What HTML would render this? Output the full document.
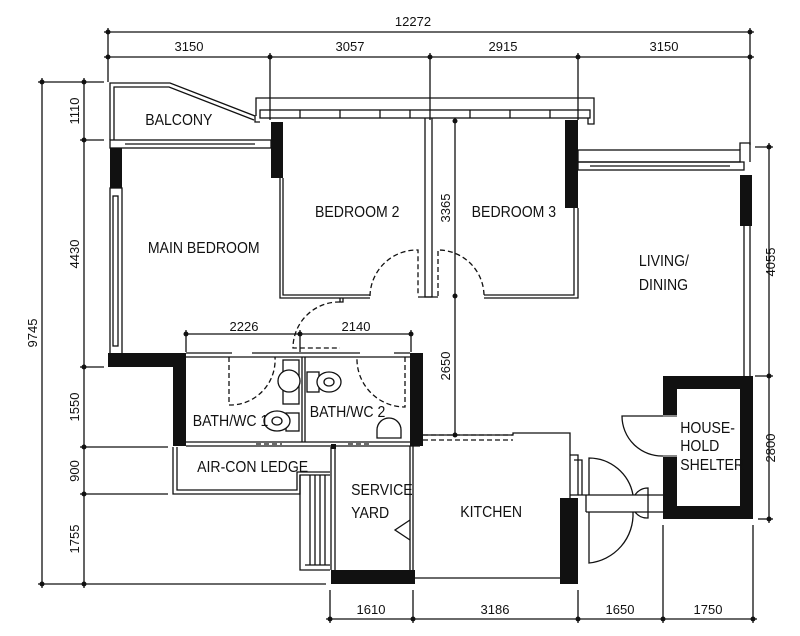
<!DOCTYPE html>
<html><head><meta charset="utf-8"><style>
html,body{margin:0;padding:0;background:#fff;}
svg{display:block}
text{font-family:"Liberation Sans",sans-serif;fill:#111;}
.d{font-size:13px;}
</style></head><body>
<svg width="800" height="636" viewBox="0 0 800 636" xmlns="http://www.w3.org/2000/svg">
<g stroke="#111" stroke-width="1.3" fill="none">
<line x1="104" y1="32" x2="754" y2="32"/>
<line x1="104" y1="57" x2="754" y2="57"/>
<line x1="108" y1="28" x2="108" y2="82"/>
<line x1="750" y1="28" x2="750" y2="145"/>
<line x1="270" y1="53" x2="270" y2="120"/>
<line x1="430" y1="53" x2="430" y2="120"/>
<line x1="578" y1="53" x2="578" y2="120"/>
<line x1="42" y1="78" x2="42" y2="588"/>
<line x1="84" y1="78" x2="84" y2="588"/>
<line x1="38" y1="82" x2="104" y2="82"/>
<line x1="80" y1="140" x2="104" y2="140"/>
<line x1="80" y1="367" x2="104" y2="367"/>
<line x1="80" y1="447" x2="168" y2="447"/>
<line x1="80" y1="494" x2="168" y2="494"/>
<line x1="38" y1="584" x2="326" y2="584"/>
<line x1="769" y1="143" x2="769" y2="523"/>
<line x1="755" y1="147" x2="773" y2="147"/>
<line x1="755" y1="376" x2="773" y2="376"/>
<line x1="758" y1="519" x2="773" y2="519"/>
<line x1="326" y1="619" x2="757" y2="619"/>
<line x1="330" y1="590" x2="330" y2="623"/>
<line x1="413" y1="590" x2="413" y2="623"/>
<line x1="578" y1="590" x2="578" y2="623"/>
<line x1="663" y1="525" x2="663" y2="623"/>
<line x1="753" y1="525" x2="753" y2="623"/>
<line x1="455" y1="120" x2="455" y2="435"/>
<line x1="186" y1="334" x2="412" y2="334"/>
<line x1="186" y1="330" x2="186" y2="352"/>
<line x1="300" y1="330" x2="300" y2="352"/>
<line x1="411" y1="330" x2="411" y2="352"/>
</g>
<g fill="#111">
<circle cx="108" cy="32" r="2.5"/><circle cx="750" cy="32" r="2.5"/>
<circle cx="108" cy="57" r="2.5"/><circle cx="270" cy="57" r="2.5"/><circle cx="430" cy="57" r="2.5"/><circle cx="578" cy="57" r="2.5"/><circle cx="750" cy="57" r="2.5"/>
<circle cx="42" cy="82" r="2.5"/><circle cx="42" cy="584" r="2.5"/>
<circle cx="84" cy="82" r="2.5"/><circle cx="84" cy="140" r="2.5"/><circle cx="84" cy="367" r="2.5"/><circle cx="84" cy="447" r="2.5"/><circle cx="84" cy="494" r="2.5"/><circle cx="84" cy="584" r="2.5"/>
<circle cx="769" cy="147" r="2.5"/><circle cx="769" cy="376" r="2.5"/><circle cx="769" cy="519" r="2.5"/>
<circle cx="330" cy="619" r="2.5"/><circle cx="413" cy="619" r="2.5"/><circle cx="578" cy="619" r="2.5"/><circle cx="663" cy="619" r="2.5"/><circle cx="753" cy="619" r="2.5"/>
<circle cx="455" cy="121" r="2.5"/><circle cx="455" cy="296" r="2.5"/><circle cx="455" cy="435" r="2.5"/>
<circle cx="186" cy="334" r="2.5"/><circle cx="300" cy="334" r="2.5"/><circle cx="411" cy="334" r="2.5"/>
</g>
<g stroke="#111" stroke-width="1.3" fill="none">
<path d="M110 140 V83 H170 L255 116 V122 H260"/>
<path d="M114 140 V87 H169 L254 120"/>
<rect x="110" y="140" width="161" height="8"/>
<line x1="125" y1="144" x2="255" y2="144"/>
<path d="M256 116 V98 H594 V124 H588 V118"/>
<rect x="260" y="110" width="330" height="8"/>
<line x1="300" y1="110" x2="300" y2="118"/><line x1="340" y1="110" x2="340" y2="118"/><line x1="380" y1="110" x2="380" y2="118"/><line x1="410" y1="110" x2="410" y2="118"/><line x1="470" y1="110" x2="470" y2="118"/><line x1="510" y1="110" x2="510" y2="118"/><line x1="550" y1="110" x2="550" y2="118"/>
<rect x="110" y="188" width="12" height="166"/>
<rect x="113" y="196" width="5" height="150"/>
<path d="M280 178 V298 H370"/><path d="M283 178 V295 H370"/>
<path d="M340 298 v4 h3 v-4"/>
<path d="M425 118 V297 H432 V118"/>
<line x1="418" y1="297" x2="438" y2="297"/>
<path d="M578 208 V298 H484"/><path d="M574 208 V295 H484"/>
<rect x="578" y="150" width="162" height="12"/>
<rect x="578" y="162" width="166" height="8"/>
<line x1="590" y1="166" x2="730" y2="166"/>
<path d="M740 150 V143 H750 V162"/>
<path d="M744 226 V376 M750 226 V376"/>
<path d="M186 353 H232 M252 353 H360 M394 353 H410"/>
<path d="M186 357 H410"/>
<line x1="186" y1="446" x2="420" y2="446"/>
<line x1="186" y1="442" x2="410" y2="442"/>
<line x1="302" y1="357" x2="302" y2="442"/><line x1="305" y1="357" x2="305" y2="442"/>
<path d="M173 447 V494 H300 V475 H330"/>
<path d="M177 447 V490 H297 V472 H330"/>
<path d="M300 475 V570 H330"/>
<line x1="310" y1="475" x2="310" y2="565"/><line x1="315" y1="475" x2="315" y2="565"/><line x1="320" y1="475" x2="320" y2="565"/><line x1="325" y1="475" x2="325" y2="565"/>
<line x1="305" y1="565" x2="330" y2="565"/>
<path d="M331 447 V570 M335 447 V570"/>
<path d="M410 446 V570 M413 446 V570"/>
<path d="M410 520 L395 530 L410 540"/>
<path d="M423 435 H513 V433 H570 V498"/>
<path d="M413 578 H560"/>
<path d="M570 455 H578 V495 H570"/>
<path d="M574 460 H582 V495"/>
<path d="M578 495 H663"/><path d="M586 512 H663"/>
<line x1="586" y1="495" x2="586" y2="512"/>
<path d="M589 495 V458 A45 45 0 0 1 633 495" />
<path d="M589 512 V563 A49 49 0 0 0 633 512"/>
<path d="M635 495 A15 15 0 0 1 648 488 V518 A15 15 0 0 1 635 512"/>
<path d="M663 416 H622 A40 40 0 0 0 663 456"/>
</g>
<g stroke="#111" stroke-width="1.3" fill="none" stroke-dasharray="5,3">
<path d="M370 296 A47 47 0 0 1 418 250 V296"/>
<path d="M438 296 V250 A46 46 0 0 1 484 296"/>
<path d="M340 302 A46 46 0 0 0 293 348 H340"/>
<path d="M229 357 V405 A45 45 0 0 0 275 357"/>
<path d="M405 357 V407 A48 48 0 0 1 357 357"/>
<path d="M423 435 H513 M423 440 H513"/>
<path d="M256 444 H282 M348 444 H372"/>
</g>
<g fill="#111">
<rect x="110" y="148" width="12" height="40"/>
<rect x="271" y="122" width="12" height="56"/>
<rect x="565" y="120" width="13" height="88"/>
<rect x="740" y="175" width="12" height="51"/>
<rect x="108" y="353" width="78" height="14"/>
<rect x="173" y="353" width="13" height="93"/>
<rect x="410" y="353" width="13" height="93"/>
<rect x="331" y="570" width="84" height="14"/>
<rect x="560" y="498" width="18" height="86"/>
<rect x="331" y="444" width="5" height="5"/>
<path d="M663 376 H753 V519 H663 Z M677 389 V506 H740 V389 Z" fill-rule="evenodd"/>
<rect x="663" y="415" width="14" height="42" fill="#fff"/>
<line x1="663" y1="416" x2="677" y2="416" stroke="#111"/>
<line x1="663" y1="456" x2="677" y2="456" stroke="#111"/>
</g>
<g stroke="#111" stroke-width="1.3" fill="#fff">
<rect x="283" y="360" width="16" height="44"/>
<circle cx="289" cy="381" r="11"/>
<rect x="286" y="413" width="13" height="18"/>
<ellipse cx="277" cy="421" rx="13" ry="10"/><ellipse cx="277" cy="421" rx="5" ry="4"/>
<rect x="307" y="372" width="12" height="20"/>
<ellipse cx="329" cy="382" rx="12" ry="10"/><ellipse cx="329" cy="382" rx="5" ry="4"/>
<path d="M377 438 V430 A12 12 0 0 1 401 430 V438 Z"/>
</g>
<g font-family="Liberation Sans, sans-serif">
<text class="d" x="413" y="26" text-anchor="middle">12272</text>
<text class="d" x="189" y="51" text-anchor="middle">3150</text>
<text class="d" x="350" y="51" text-anchor="middle">3057</text>
<text class="d" x="503" y="51" text-anchor="middle">2915</text>
<text class="d" x="664" y="51" text-anchor="middle">3150</text>
<text class="d" x="244" y="331" text-anchor="middle">2226</text>
<text class="d" x="356" y="331" text-anchor="middle">2140</text>
<text class="d" x="371" y="614" text-anchor="middle">1610</text>
<text class="d" x="495" y="614" text-anchor="middle">3186</text>
<text class="d" x="620" y="614" text-anchor="middle">1650</text>
<text class="d" x="708" y="614" text-anchor="middle">1750</text>
<text class="d" transform="translate(37,333) rotate(-90)" text-anchor="middle">9745</text>
<text class="d" transform="translate(79,111) rotate(-90)" text-anchor="middle">1110</text>
<text class="d" transform="translate(79,254) rotate(-90)" text-anchor="middle">4430</text>
<text class="d" transform="translate(79,407) rotate(-90)" text-anchor="middle">1550</text>
<text class="d" transform="translate(79,471) rotate(-90)" text-anchor="middle">900</text>
<text class="d" transform="translate(79,539) rotate(-90)" text-anchor="middle">1755</text>
<text class="d" transform="translate(450,208) rotate(-90)" text-anchor="middle">3365</text>
<text class="d" transform="translate(450,366) rotate(-90)" text-anchor="middle">2650</text>
<text class="d" transform="translate(775,262) rotate(-90)" text-anchor="middle">4055</text>
<text class="d" transform="translate(775,448) rotate(-90)" text-anchor="middle">2800</text>
<g font-size="16" transform="scale(0.88,1)">
<text x="165" y="125">BALCONY</text>
<text x="168" y="253">MAIN BEDROOM</text>
<text x="358" y="217">BEDROOM 2</text>
<text x="536" y="217">BEDROOM 3</text>
<text x="726" y="266">LIVING/</text>
<text x="726" y="290">DINING</text>
<text x="219" y="426">BATH/WC 1</text>
<text x="352" y="417">BATH/WC 2</text>
<text x="224" y="472">AIR-CON LEDGE</text>
<text x="399" y="495">SERVICE</text>
<text x="399" y="518">YARD</text>
<text x="523" y="517">KITCHEN</text>
<text x="773" y="433">HOUSE-</text>
<text x="773" y="451">HOLD</text>
<text x="773" y="470">SHELTER</text>
</g>
</g>
</svg>
</body></html>
